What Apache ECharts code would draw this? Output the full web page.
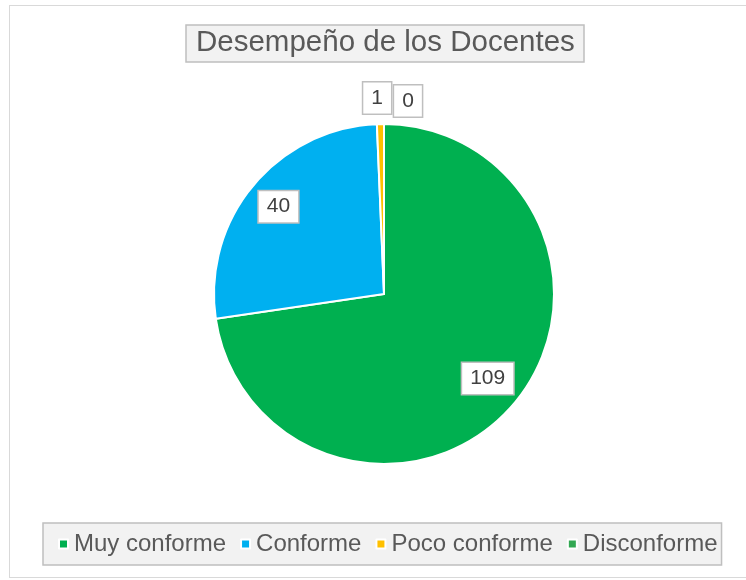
<!DOCTYPE html>
<html>
<head>
<meta charset="utf-8">
<script src="https://cdn.jsdelivr.net/npm/echarts@6/dist/echarts.min.js"></script>
<style>
html,body{margin:0;padding:0;background:#fff;}
#frame{position:absolute;left:9px;top:5px;width:745px;height:573px;border:1px solid #d9d9d9;box-sizing:border-box;}
#chart{position:absolute;left:0;top:0;width:746px;height:580px;}
</style>
</head>
<body>
<div id="frame"></div>
<div id="chart"></div>
<script>
var titleText = 'Desempeño de los Docentes';
var categories = ['Muy conforme', 'Conforme', 'Poco conforme', 'Disconforme'];
var values = [109, 40, 1, 0];
var colors = ['#00b050', '#00b0f0', '#ffc000', '#33a853'];

var font = "'Liberation Sans', Arial, sans-serif";
var data = categories.map(function (c, i) {
  return { name: c, value: values[i], itemStyle: { color: colors[i] } };
});
var labelData = categories.map(function (c, i) {
  return { name: c, value: values[i] };
});

var chart = echarts.init(document.getElementById('chart'), null, { renderer: 'canvas' });
chart.setOption({
  animation: false,
  title: {
    text: titleText,
    left: 186,
    top: 25,
    padding: [3, 9, 4, 10],
    backgroundColor: '#f2f2f2',
    borderColor: '#bfbfbf',
    borderWidth: 1.5,
    textStyle: { fontFamily: font, fontSize: 29.5, fontWeight: 'normal', color: '#595959', lineHeight: 30 }
  },
  legend: {
    data: categories,
    bottom: 15,
    left: 43,
    icon: 'rect',
    itemWidth: 9,
    itemHeight: 9,
    itemGap: 14,
    padding: [9, 4, 9, 15],
    backgroundColor: '#f2f2f2',
    borderColor: '#bfbfbf',
    borderWidth: 1.5,
    textStyle: { fontFamily: font, fontSize: 24, color: '#595959', padding: [0, 0, 0, 1] }
  },
  series: [
    {
      type: 'pie',
      center: [384, 294],
      radius: 170,
      startAngle: 90,
      clockwise: true,
      silent: true,
      label: { show: false },
      labelLine: { show: false },
      itemStyle: { borderColor: '#ffffff', borderWidth: 2 },
      data: data
    },
    {
      type: 'pie',
      center: [384, 294],
      radius: [98, 170],
      startAngle: 90,
      clockwise: true,
      silent: true,
      legendHoverLink: false,
      itemStyle: { color: 'rgba(0,0,0,0)' },
      labelLine: { show: false },
      label: {
        show: true,
        position: 'inside',
        formatter: '{c}',
        fontFamily: font,
        fontSize: 21,
        color: '#404040',
        backgroundColor: '#ffffff',
        borderColor: '#bfbfbf',
        borderWidth: 1.5,
        padding: [6, 8, 4, 8]
      },
      labelLayout: function (params) {
        if (params.dataIndex === 0) return { dx: 0, dy: -5 };
        if (params.dataIndex === 2) return { dx: -4, dy: -59 };
        if (params.dataIndex === 3) return { dx: 24, dy: -56 };
        return {};
      },
      data: labelData
    }
  ]
});
</script>
</body>
</html>
